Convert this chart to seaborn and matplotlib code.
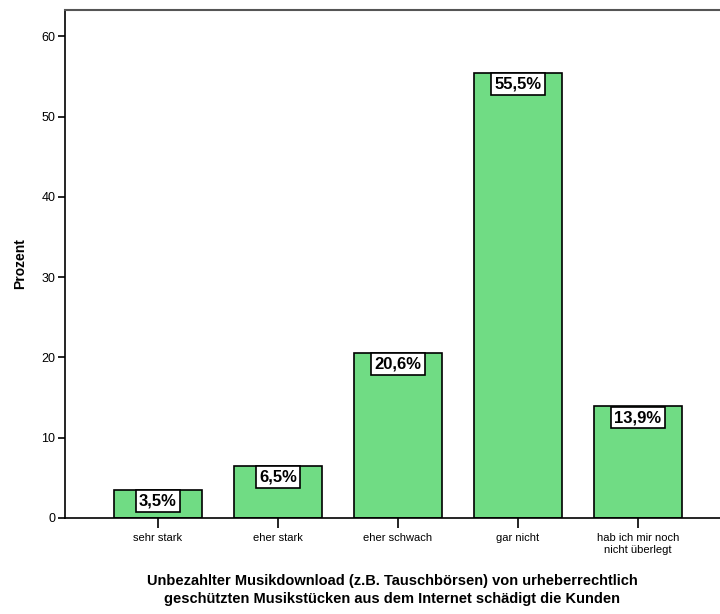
import pandas as pd
import numpy as np
import matplotlib.pyplot as plt
import seaborn as sns
from matplotlib import font_manager

# Daten
kategorien = ['sehr stark', 'eher stark', 'eher schwach', 'gar nicht',
              'hab ich mir noch\nnicht überlegt']
prozent = [3.5, 6.5, 20.6, 55.5, 13.9]
labels = ['3,5%', '6,5%', '20,6%', '55,5%', '13,9%']
y_ticks = [0, 10, 20, 30, 40, 50, 60]

sns.set_style('white')
plt.rcParams['font.family'] = ['Liberation Sans', 'DejaVu Sans']
plt.rcParams.update({'text.color': 'black', 'axes.labelcolor': 'black',
                     'xtick.color': 'black', 'ytick.color': 'black'})

installed = {f.name for f in font_manager.fontManager.ttflist}
label_font = ['Liberation Sans Narrow'] if 'Liberation Sans Narrow' in installed else ['Liberation Sans']
print(label_font)

df = pd.DataFrame({'kategorie': kategorien, 'prozent': prozent})

fig = plt.figure(figsize=(7.2, 6.14), dpi=100)
ax = fig.add_axes([65 / 720, 96 / 614, 655 / 720, 508 / 614])

sns.barplot(data=df, x='kategorie', y='prozent', color='#70dc84', saturation=1,
            width=0.733, edgecolor='black', linewidth=1.2, ax=ax)

# Werte als Kästchen oben in den Balken
for i, (val, lab) in enumerate(zip(prozent, labels)):
    ax.annotate(lab, (i, val), xytext=(0, -2.6), textcoords='offset points',
                ha='center', va='top', fontsize=12, fontweight='bold',
                family=label_font,
                bbox=dict(boxstyle='square,pad=0.2', fc='white', ec='black', lw=1.2))

ax.set_xlim(-0.775, 4.683)
ax.set_ylim(0, 63.3)
ax.set_yticks(y_ticks)
ax.tick_params(axis='y', labelsize=9, length=5, width=1.2, pad=2, left=True)
ax.tick_params(axis='x', labelsize=8, length=7, width=1.2, pad=4, bottom=True)

ax.spines['right'].set_visible(False)
ax.spines['top'].set_color('#555555')
ax.spines['top'].set_linewidth(1.5)
for s in ['left', 'bottom']:
    ax.spines[s].set_color('black')
    ax.spines[s].set_linewidth(1.2)

ax.set_ylabel('Prozent', fontsize=10, fontweight='bold', labelpad=10)
ax.set_xlabel('Unbezahlter Musikdownload (z.B. Tauschbörsen) von urheberrechtlich\n'
              'geschützten Musikstücken aus dem Internet schädigt die Kunden',
              fontsize=10.5, fontweight='bold', labelpad=14, linespacing=1.35)

plt.savefig('out.png', dpi=100)
